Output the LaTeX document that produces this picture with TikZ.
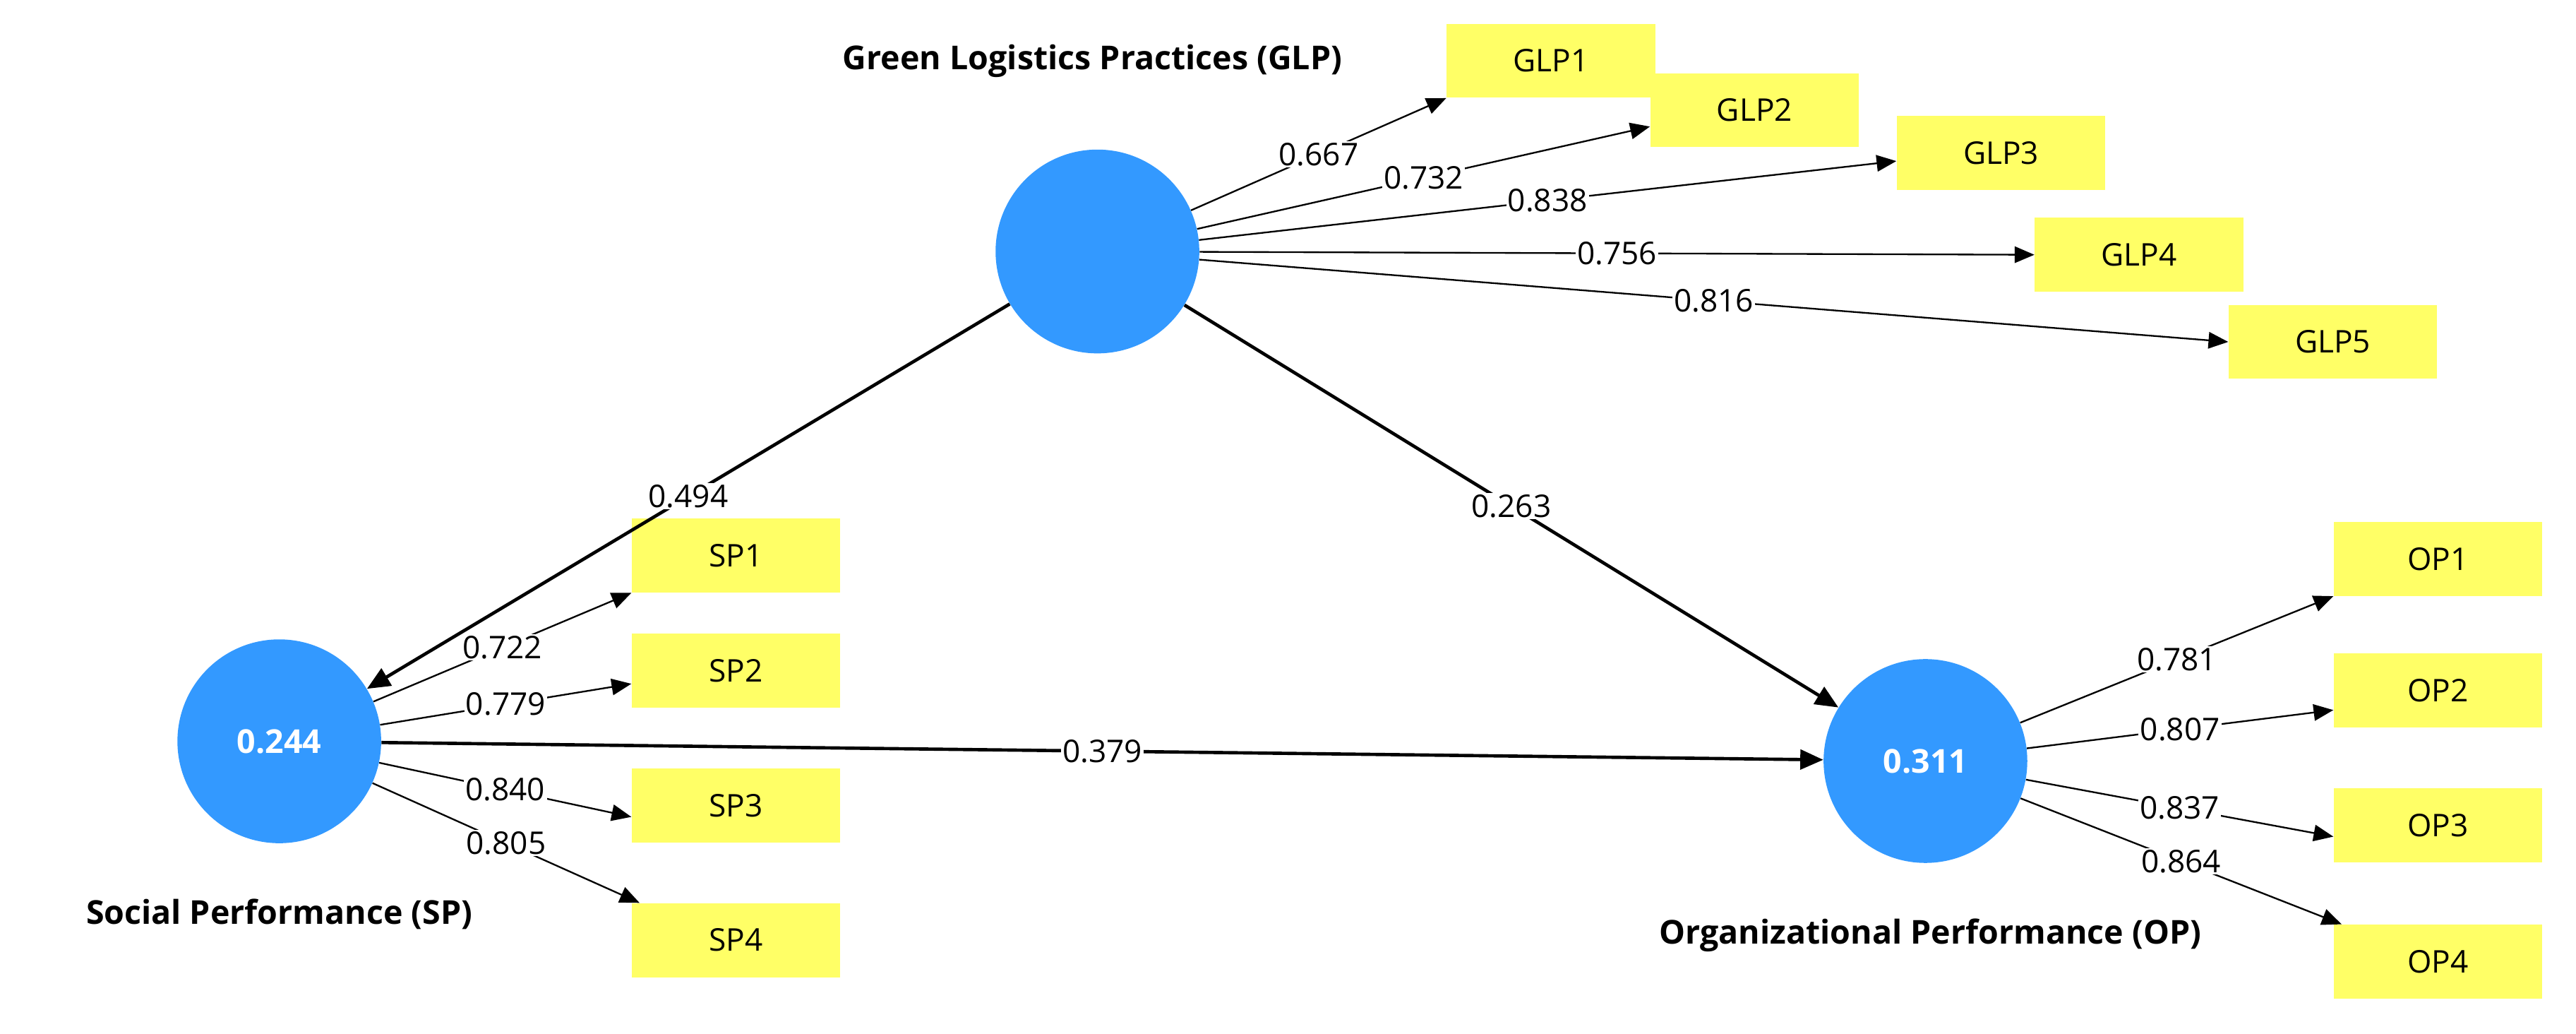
\documentclass[tikz,border=0pt]{standalone}
\usepackage{fontspec}
\setmainfont{Open Sans}
\usetikzlibrary{arrows.meta}
\definecolor{lv}{HTML}{3399FF}
\definecolor{ind}{HTML}{FFFF66}
\begin{document}
\begin{tikzpicture}[x=1pt,y=-1pt,
  lv/.style={circle,fill=lv,minimum size=124pt,inner sep=0pt,text=white,font=\fontsize{20}{24}\selectfont\bfseries},
  ind/.style={fill=ind,minimum width=127pt,minimum height=45pt,inner sep=0pt,font=\fontsize{19}{22}\selectfont},
  ttl/.style={font=\fontsize{20}{24}\selectfont\bfseries},
  ld/.style={-{Triangle[length=12pt,width=10pt]},line width=1pt},
  pth/.style={-{Triangle[length=14pt,width=12pt]},line width=2pt},
  lab/.style={fill=white,inner sep=1pt,font=\fontsize{19}{22}\selectfont}]
\useasboundingbox (0,0) rectangle (1568,629);
\node[lv] (glp) at (668,153) {};
\node[lv] (sp) at (170,451) {0.244};
\node[lv] (op) at (1172,463) {0.311};
\node[ttl] (tg) at (665,37) {Green Logistics Practices (GLP)};
\node[ttl] (ts) at (170,556) {Social Performance (SP)};
\node[ttl] (to) at (1175,569) {Organizational Performance (OP)};
\node[ind] (glp1) at (944,37) {GLP1};
\node[ind] (glp2) at (1068,67) {GLP2};
\node[ind] (glp3) at (1218,93) {GLP3};
\node[ind] (glp4) at (1302,155) {GLP4};
\node[ind] (glp5) at (1420,208) {GLP5};
\node[ind] (sp1) at (448,338) {SP1};
\node[ind] (sp2) at (448,408) {SP2};
\node[ind] (sp3) at (448,490) {SP3};
\node[ind] (sp4) at (448,572) {SP4};
\node[ind] (op1) at (1484,340) {OP1};
\node[ind] (op2) at (1484,420) {OP2};
\node[ind] (op3) at (1484,502) {OP3};
\node[ind] (op4) at (1484,585) {OP4};
\draw[ld] (glp) -- (glp1.south west) node[lab,pos=0.5]{0.667};
\draw[ld] (glp) -- ([yshift=-10pt]glp2.west) node[lab,pos=0.5]{0.732};
\draw[ld] (glp) -- ([yshift=-5pt]glp3.west) node[lab,pos=0.5]{0.838};
\draw[ld] (glp) -- (glp4.west) node[lab,pos=0.5]{0.756};
\draw[ld] (glp) -- (glp5.west) node[lab,pos=0.5]{0.816};
\draw[ld] (sp) -- (sp1.south west) node[lab,pos=0.5]{0.722};
\draw[ld] (sp) -- ([yshift=-8pt]sp2.west) node[lab,pos=0.5]{0.779};
\draw[ld] (sp) -- ([yshift=-7pt]sp3.west) node[lab,pos=0.5]{0.840};
\draw[ld] (sp) -- ([xshift=5pt]sp4.north west) node[lab,pos=0.5]{0.805};
\draw[ld] (op) -- (op1.south west) node[lab,pos=0.5]{0.781};
\draw[ld] (op) -- ([yshift=-12pt]op2.west) node[lab,pos=0.5]{0.807};
\draw[ld] (op) -- ([yshift=-7pt]op3.west) node[lab,pos=0.5]{0.837};
\draw[ld] (op) -- ([xshift=5pt]op4.north west) node[lab,pos=0.5]{0.864};
\draw[pth] (glp) -- (sp) node[lab,pos=0.5]{0.494};
\draw[pth] (glp) -- (op) node[lab,pos=0.5]{0.263};
\draw[pth] (sp) -- (op) node[lab,pos=0.5]{0.379};
\end{tikzpicture}
\end{document}
